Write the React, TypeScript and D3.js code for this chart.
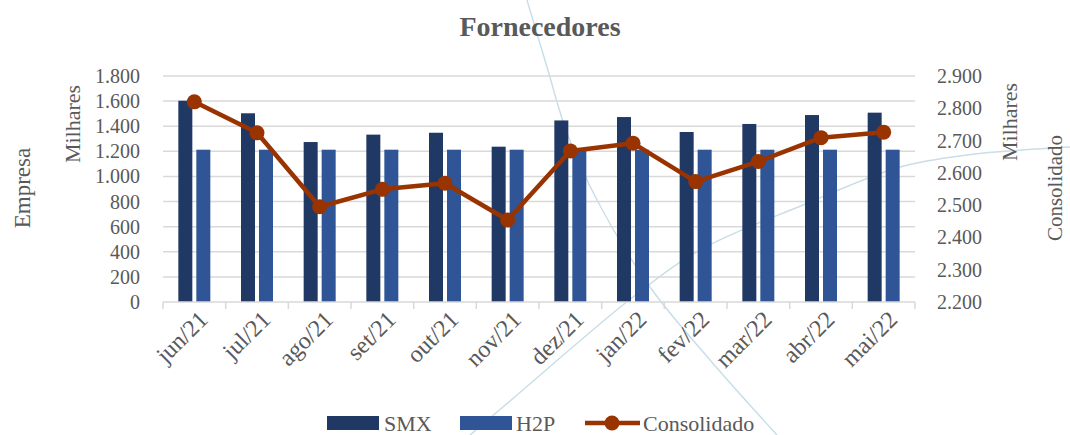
import { useEffect, useRef } from 'react';
import * as d3 from 'd3';

const WIDTH = 1070;
const HEIGHT = 435;
const PLOT = { left: 163, right: 915, top: 76, bottom: 302 };

const months = ['jun/21', 'jul/21', 'ago/21', 'set/21', 'out/21', 'nov/21', 'dez/21', 'jan/22', 'fev/22', 'mar/22', 'abr/22', 'mai/22'];
const smx = [1603, 1503, 1274, 1333, 1348, 1237, 1446, 1473, 1354, 1418, 1489, 1508];
const h2p = [1213, 1213, 1213, 1213, 1213, 1213, 1213, 1213, 1213, 1213, 1213, 1213];
const consolidado = [2820, 2724, 2495, 2549, 2568, 2454, 2668, 2692, 2573, 2635, 2709, 2726];
const leftTicks = [0, 200, 400, 600, 800, 1000, 1200, 1400, 1600, 1800];
const rightTicks = [2200, 2300, 2400, 2500, 2600, 2700, 2800, 2900];

// faint decorative curves from the slide background
const bgCurves: [number, number][][] = [
  [[527, 0], [547, 67], [567, 133], [597, 200], [650, 287], [710, 360], [777, 435]],
  [[470, 435], [517, 395], [633, 297], [700, 250], [803, 205], [900, 167], [967, 155], [1070, 147]],
];

const COLORS = { smx: '#203864', h2p: '#2F5597', line: '#993300', text: '#595959', grid: '#d9d9d9', bg: '#c9dee8' };
const FONT = '"Liberation Serif", "DejaVu Serif", serif';

const ptBR = d3.formatLocale({ decimal: ',', thousands: '.', grouping: [3], currency: ['R$', ''] });
const fmt = ptBR.format(',');

export default function App() {
  const svgRef = useRef<SVGSVGElement>(null);

  useEffect(() => {
    const svg = d3.select(svgRef.current);
    svg.selectAll('*').remove();

    svg.append('rect').attr('width', WIDTH).attr('height', HEIGHT).attr('fill', '#fff');

    // background curves
    const curveLine = d3.line().curve(d3.curveCatmullRom);
    bgCurves.forEach((pts) => {
      svg.append('path').attr('d', curveLine(pts)).attr('fill', 'none').attr('stroke', COLORS.bg).attr('stroke-width', 1.5);
    });

    const x = d3.scaleBand<string>().domain(months).range([PLOT.left, PLOT.right]);
    const bw = x.bandwidth();
    const x1 = d3.scaleBand<string>().domain(['smx', 'h2p']).range([bw / 2 - 16, bw / 2 + 16]).paddingInner(0.222);
    const yL = d3.scaleLinear().domain([0, 1800]).range([PLOT.bottom, PLOT.top]);
    const yR = d3.scaleLinear().domain([2200, 2900]).range([PLOT.bottom, PLOT.top]);

    // gridlines
    svg.append('g')
      .selectAll('line')
      .data(leftTicks.slice(1))
      .join('line')
      .attr('x1', PLOT.left)
      .attr('x2', PLOT.right)
      .attr('y1', (d) => yL(d))
      .attr('y2', (d) => yL(d))
      .attr('stroke', COLORS.grid)
      .attr('stroke-width', 1.5);

    // bars
    const groups = svg.append('g')
      .selectAll('g')
      .data(months)
      .join('g')
      .attr('transform', (d) => `translate(${x(d)},0)`);
    groups.append('rect')
      .attr('x', x1('smx')!)
      .attr('width', x1.bandwidth())
      .attr('y', (_, i) => yL(smx[i]))
      .attr('height', (_, i) => yL(0) - yL(smx[i]))
      .attr('fill', COLORS.smx);
    groups.append('rect')
      .attr('x', x1('h2p')!)
      .attr('width', x1.bandwidth())
      .attr('y', (_, i) => yL(h2p[i]))
      .attr('height', (_, i) => yL(0) - yL(h2p[i]))
      .attr('fill', COLORS.h2p);

    // bottom axis
    const xAxis = svg.append('g')
      .attr('transform', `translate(0,${PLOT.bottom})`);
    xAxis.append('line').attr('x1', PLOT.left).attr('x2', PLOT.right).attr('stroke', COLORS.grid).attr('stroke-width', 1.5);
    const edges = months.map((m) => x(m)!).concat([PLOT.right]);
    xAxis.selectAll('line.tick')
      .data(edges)
      .join('line')
      .attr('class', 'tick')
      .attr('x1', (d) => d)
      .attr('x2', (d) => d)
      .attr('y1', 0)
      .attr('y2', 7)
      .attr('stroke', COLORS.grid)
      .attr('stroke-width', 1.5);
    xAxis.selectAll('text')
      .data(months)
      .join('text')
      .attr('transform', (d) => `translate(${x(d)! + bw / 2 + 9},${13}) rotate(-45)`)
      .attr('text-anchor', 'end')
      .attr('dy', '0.35em')
      .attr('fill', COLORS.text)
      .style('font-family', FONT)
      .style('font-size', '24px')
      .text((d) => d);

    // left tick labels
    svg.append('g')
      .selectAll('text')
      .data(leftTicks)
      .join('text')
      .attr('x', 140)
      .attr('y', (d) => yL(d))
      .attr('dy', '0.35em')
      .attr('text-anchor', 'end')
      .attr('fill', COLORS.text)
      .style('font-family', FONT)
      .style('font-size', '20px')
      .text((d) => fmt(d));

    // right tick labels
    svg.append('g')
      .selectAll('text')
      .data(rightTicks)
      .join('text')
      .attr('x', 937)
      .attr('y', (d) => yR(d))
      .attr('dy', '0.35em')
      .attr('fill', COLORS.text)
      .style('font-family', FONT)
      .style('font-size', '20px')
      .text((d) => fmt(d));

    // line series
    const line = d3.line<number>()
      .x((_, i) => x(months[i])! + bw / 2)
      .y((d) => yR(d));
    svg.append('path')
      .datum(consolidado)
      .attr('d', line)
      .attr('fill', 'none')
      .attr('stroke', COLORS.line)
      .attr('stroke-width', 4.5)
      .attr('stroke-linejoin', 'round');
    svg.append('g')
      .selectAll('circle')
      .data(consolidado)
      .join('circle')
      .attr('cx', (_, i) => x(months[i])! + bw / 2)
      .attr('cy', (d) => yR(d))
      .attr('r', 7.5)
      .attr('fill', COLORS.line);

    // titles
    const label = (txt: string, tx: number, ty: number, size: number, rot = -90) => {
      svg.append('text')
        .attr('transform', `translate(${tx},${ty}) rotate(${rot})`)
        .attr('text-anchor', 'middle')
        .attr('dy', '0.35em')
        .attr('fill', COLORS.text)
        .style('font-family', FONT)
        .style('font-size', `${size}px`)
        .text(txt);
    };
    label('Empresa', 22, 188, 23);
    label('Milhares', 72, 124, 22);
    label('Milhares', 1009, 122, 22);
    label('Consolidado', 1055, 188, 21);

    svg.append('text')
      .attr('x', 540)
      .attr('y', 36)
      .attr('text-anchor', 'middle')
      .attr('fill', COLORS.text)
      .style('font-family', FONT)
      .style('font-size', '28px')
      .style('font-weight', 700)
      .text('Fornecedores');

    // legend
    const legend = svg.append('g').attr('transform', 'translate(0,423)');
    legend.append('rect').attr('x', 327).attr('y', -7).attr('width', 52).attr('height', 14).attr('fill', COLORS.smx);
    legend.append('text').attr('x', 384).attr('dy', '0.35em').attr('fill', COLORS.text).style('font-family', FONT).style('font-size', '22px').text('SMX');
    legend.append('rect').attr('x', 460).attr('y', -7).attr('width', 52).attr('height', 14).attr('fill', COLORS.h2p);
    legend.append('text').attr('x', 516).attr('dy', '0.35em').attr('fill', COLORS.text).style('font-family', FONT).style('font-size', '22px').text('H2P');
    legend.append('line').attr('x1', 585).attr('x2', 640).attr('stroke', COLORS.line).attr('stroke-width', 4.5);
    legend.append('circle').attr('cx', 612).attr('r', 7.5).attr('fill', COLORS.line);
    legend.append('text').attr('x', 643).attr('dy', '0.35em').attr('fill', COLORS.text).style('font-family', FONT).style('font-size', '22px').text('Consolidado');
  }, []);

  return (
    <svg
      ref={svgRef}
      width={WIDTH}
      height={HEIGHT}
      viewBox={`0 0 ${WIDTH} ${HEIGHT}`}
      style={{ position: 'absolute', left: 0, top: 0, display: 'block' }}
    />
  );
}
